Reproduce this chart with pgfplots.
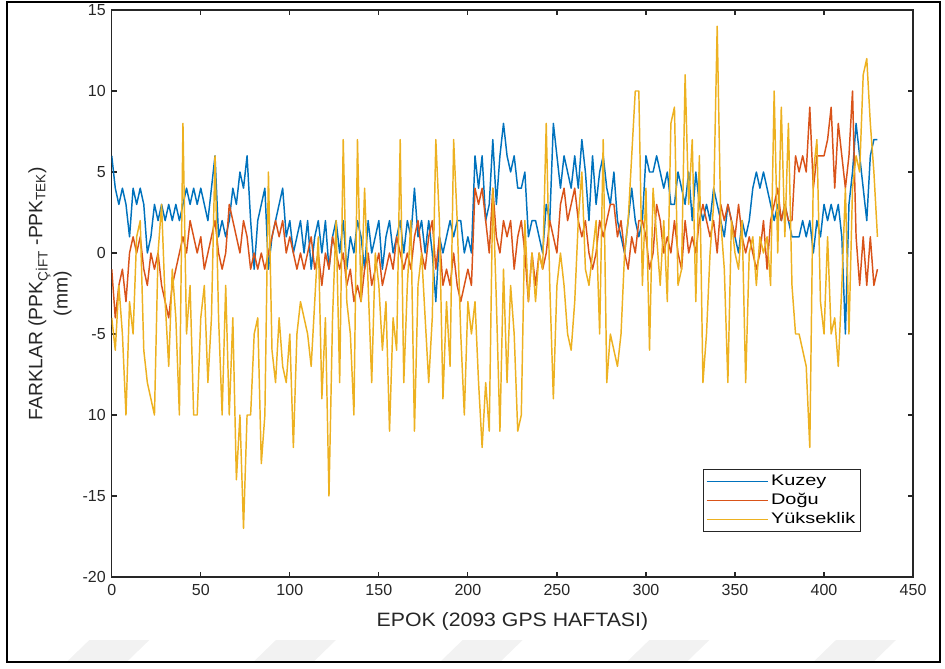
\documentclass[border=0pt]{standalone}
\usepackage{fontspec}
\setmainfont{Liberation Sans}
\newfontfamily\labelfont{Liberation Sans}[FakeStretch=1.1]
\newfontfamily\legendfont{Liberation Sans}[FakeStretch=1.3]
\usepackage{pgfplots}
\pgfplotsset{compat=1.18}
\usepackage{pgfplotstable}

\definecolor{mBlue}{rgb}{0,0.447,0.741}
\definecolor{mOrange}{rgb}{0.850,0.325,0.098}
\definecolor{mYellow}{rgb}{0.929,0.694,0.125}
\definecolor{axgray}{rgb}{0.15,0.15,0.15}

% epoch, north (Kuzey), east (Dogu), height (Yukseklik) differences in mm
\pgfplotstableread{
epok kuzey dogu yuk
0 6 -1 -4
2 4 -4 -6
4 3 -2 -2
6 4 -1 -5
8 3 -3 -10
10 1 0 -3
12 4 1 -5
14 3 0 1
16 4 1 2
18 3 -1 -6
20 0 -2 -8
22 1 0 -9
24 3 -1 -10
26 2 0 0
28 3 -2 3
30 2 -3 -3
32 3 -4 -7
34 2 -2 -1
36 3 -1 -4
38 2 0 -10
40 3 1 8
42 4 0 -5
44 3 2 -2
46 4 1 -10
48 3 0 -10
50 4 1 -4
52 3 -1 -2
54 2 0 -8
56 4 1 -4
58 6 2 6
60 1 0 -4
62 2 -1 -10
64 1 0 -2
66 2 3 -10
68 4 2 -4
70 3 1 -14
72 5 0 -10
74 4 2 -17
76 6 1 -10
78 2 -1 -10
80 -1 0 -5
82 2 -1 -4
84 3 0 -13
86 4 -1 -10
88 -1 0 5
90 1 1 -6
92 2 2 -8
94 3 1 -4
96 4 2 -7
98 1 0 -8
100 2 1 -5
102 0 0 -12
104 1 -1 -5
106 2 0 -3
108 0 -1 -4
110 2 0 -5
112 -1 1 -7
114 1 -1 -3
116 2 0 1
118 0 -2 -9
120 2 0 -4
122 -1 -1 -15
124 1 1 -4
126 2 0 2
128 0 -1 -8
130 2 0 7
132 -1 -2 -3
134 1 -1 -5
136 0 -3 -10
138 2 -2 7
140 1 -3 -3
142 -1 -1 4
144 2 0 -2
146 0 -2 -8
148 1 -1 0
150 2 0 -2
152 -1 -2 -6
154 1 -1 -3
156 2 0 -11
158 0 -1 -4
160 1 1 -6
162 2 0 7
164 0 -1 -8
166 2 0 -2
168 1 -1 2
170 4 1 -11
172 1 2 -2
174 2 0 0
176 0 -1 -4
178 2 1 -8
180 0 2 -4
182 -3 -1 7
184 1 1 2
186 0 -2 -9
188 1 -1 -3
190 2 -2 -7
192 1 0 7
194 2 -2 2
196 2 -3 -5
198 0 -2 -10
200 1 -1 -3
202 0 -2 -5
204 6 4 -3
206 4 3 -8
208 6 4 -12
210 2 2 -8
212 3 0 -11
214 7 4 4
216 3 1 -3
218 6 0 -11
220 8 2 -1
222 6 1 -8
224 5 2 -2
226 6 -1 -5
228 4 1 -11
230 4 2 -10
232 5 0 2
234 1 -3 -3
236 2 0 0
238 2 -2 -3
240 1 0 0
242 0 -1 -1
244 3 0 8
246 2 2 -2
248 8 1 -9
250 6 0 -2
252 4 3 0
254 6 4 -2
256 5 2 -5
258 4 3 -6
260 6 4 -3
262 4 2 2
264 7 1 5
266 5 2 -1
268 2 0 -2
270 6 -1 0
272 3 0 2
274 5 2 -5
276 6 1 7
278 4 2 -8
280 3 3 -5
282 5 3 -6
284 2 1 -7
286 1 2 -5
288 0 0 0
290 2 -1 2
292 4 1 6
294 2 0 10
296 1 2 10
298 2 2 -2
300 6 1 4
302 5 -1 -6
304 5 0 4
306 6 3 1
308 5 2 -2
310 4 0 2
312 5 1 -3
314 3 0 8
316 3 2 9
318 5 0 -2
320 4 -1 -1
322 3 2 11
324 5 0 3
326 2 1 7
328 5 0 -3
330 3 2 6
332 2 3 -8
334 3 2 -5
336 2 1 0
338 4 2 3
340 3 0 14
342 2 3 2
344 1 2 -1
346 3 3 -8
348 2 2 2
350 1 1 0
352 0 3 -1
354 2 1 2
356 1 0 -8
358 2 1 0
360 4 0 1
362 5 -1 -2
364 4 0 1
366 5 2 0
368 4 -1 1
370 3 2 -2
372 2 3 10
374 3 4 0
376 2 2 9
378 3 3 1
380 2 2 8
382 1 2 -2
384 1 6 -5
386 1 5 -5
388 2 6 -6
390 1 5 -7
392 2 9 -12
394 0 4 5
396 2 6 7
398 1 6 -3
400 3 6 -5
402 2 7 1
404 3 9 -5
406 2 4 -4
408 3 8 -7
410 1 6 -2
412 -5 4 4
414 3 6 -5
416 5 10 4
418 8 1 6
420 6 -2 5
422 4 1 11
424 2 -2 12
426 6 1 8
428 7 -2 5
430 7 -1 1
}\farklar

\begin{document}
\begin{tikzpicture}[x=1pt,y=1pt]
\useasboundingbox (0,0) rectangle (708.75,501);
% light diagonal bands along the bottom edge
\foreach \s in {50,190,330,470,610} {
  \fill[gray!10] (\s,4.5) -- (\s+45,4.5) -- (\s+62,21) -- (\s+17,21) -- cycle;
}
\begin{axis}[
  at={(83.8pt,68.25pt)}, anchor=south west,
  scale only axis, width=601pt, height=425.25pt,
  xmin=0, xmax=450, ymin=-20, ymax=15,
  xtick={0,50,...,450},
  xticklabels={0,50,100,150,200,250,300,350,400,450},
  ytick={-20,-15,...,15},
  yticklabels={-20,-15,10,-5,0,5,10,15},
  tick align=inside,
  major tick length=4pt,
  axis line style={axgray, line width=0.9pt},
  every tick/.style={axgray, line width=0.9pt},
  ticklabel style={font=\fontsize{12}{14}\selectfont, text=axgray},
  xticklabel style={yshift=-2pt},
  yticklabel style={xshift=-1pt},
  xlabel={EPOK (2093 GPS HAFTASI)},
  xlabel style={at={(axis description cs:0.5,-0.0776)}, anchor=center,
    font=\labelfont\fontsize{14.5}{16}\selectfont, text=axgray},
  ylabel={FARKLAR (PPK\textsubscript{ÇİFT} -PPK\textsubscript{TEK})\\(mm)},
  ylabel style={at={(axis description cs:-0.077,0.5)}, anchor=center, rotate=0,
    align=center, font=\fontsize{14.5}{19}\selectfont, text=axgray},
  legend style={at={(rel axis cs:0.935,0.1905)}, anchor=north east,
    draw=axgray, line width=0.6pt, fill=white,
    font=\legendfont\fontsize{11.5}{13}\selectfont,
    row sep=0.5pt, inner xsep=2pt, inner ysep=2pt,
    cells={anchor=west}},
  legend image code/.code={\draw[#1, line width=0.6pt] (0pt,0pt) -- (46pt,0pt);},
  every axis plot/.append style={line width=1.1pt, line join=round},
]
\addplot[mBlue] table[x=epok, y=kuzey] {\farklar};
\addplot[mOrange] table[x=epok, y=dogu] {\farklar};
\addplot[mYellow] table[x=epok, y=yuk] {\farklar};
\legend{Kuzey, Doğu, Yükseklik}
\end{axis}
\draw[line width=1.8pt] (5.25,4.5) rectangle (705,499.5);
\end{tikzpicture}
\end{document}
